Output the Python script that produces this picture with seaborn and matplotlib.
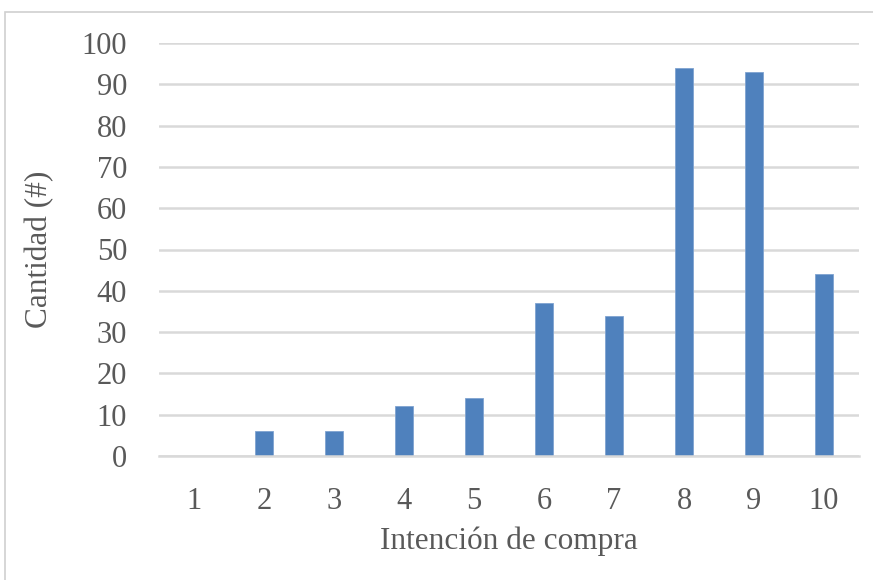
import matplotlib
matplotlib.use("Agg")
import matplotlib.pyplot as plt
import seaborn as sns
import pandas as pd
from matplotlib.patches import Rectangle

# Purchase-intention scores and how many respondents gave each one
categorias = ["1", "2", "3", "4", "5", "6", "7", "8", "9", "10"]
cantidades = [0, 6, 6, 12, 14, 37, 34, 94, 93, 44]
yticks = [0, 10, 20, 30, 40, 50, 60, 70, 80, 90, 100]

df = pd.DataFrame({"intencion": categorias, "cantidad": cantidades})

sns.set_theme(style="white")
plt.rcParams["font.family"] = ["Liberation Serif", "DejaVu Serif"]

text_color = "#595959"
grid_color = "#D9D9D9"
bar_color = "#4F81BD"

fig = plt.figure(figsize=(8.73, 5.8), dpi=100)
ax = fig.add_axes([159 / 873, 1 - 456 / 580, (859 - 159) / 873, (456 - 43) / 580])

sns.barplot(data=df, x="intencion", y="cantidad", order=categorias,
            color=bar_color, saturation=1, width=0.27, ax=ax,
            edgecolor="#7FA3D1", linewidth=0.6)

ax.set_ylim(0, 100)
ax.set_xlim(-0.5, len(categorias) - 0.5)
ax.set_yticks(yticks)
ax.set_yticklabels([str(v) for v in yticks])
ax.yaxis.grid(True, color=grid_color, linewidth=1.8)
ax.set_axisbelow(True)
for side in ["top", "right", "left"]:
    ax.spines[side].set_visible(False)
ax.spines["bottom"].set_color(grid_color)
ax.spines["bottom"].set_linewidth(1.8)
ax.tick_params(axis="both", length=0, labelsize=22, colors=text_color)
ax.tick_params(axis="x", pad=22)
ax.tick_params(axis="y", pad=23)

ax.set_xlabel("Intención de compra", fontsize=22.5, color=text_color, labelpad=8)
ax.set_ylabel("Cantidad (#)", fontsize=22.5, color=text_color, labelpad=20)

# Light frame around the chart area
fig.patches.append(Rectangle((5 / 873, -0.05), 1.1, 1 - 12 / 580 + 0.05,
                             transform=fig.transFigure, fill=False,
                             edgecolor="#D0D0D0", linewidth=1.2))

fig.savefig("out.png", dpi=100)
